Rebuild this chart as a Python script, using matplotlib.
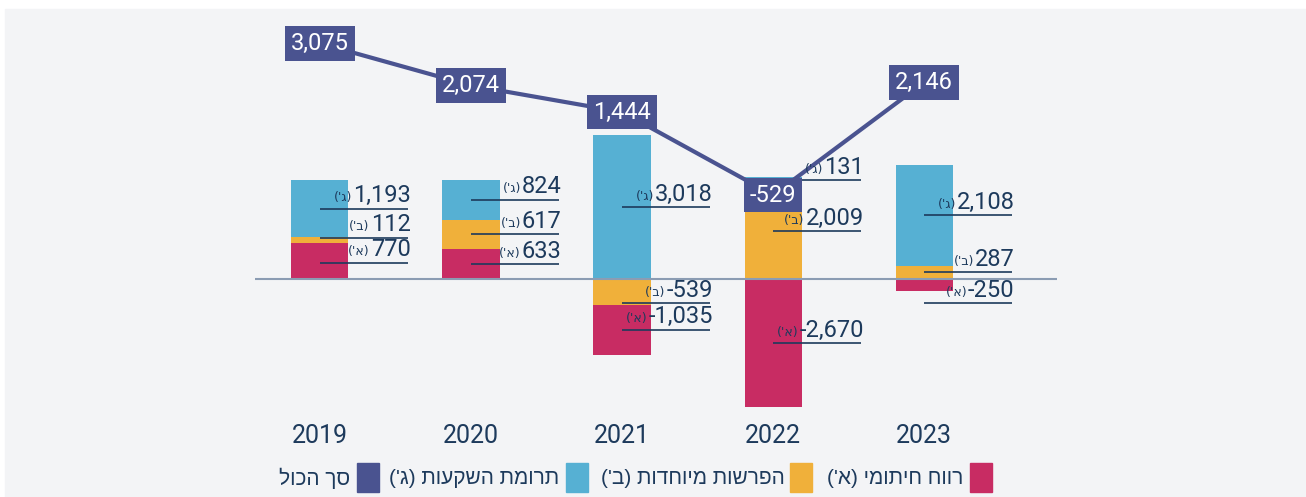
import matplotlib
matplotlib.use('Agg')
import matplotlib.pyplot as plt
import numpy as np
from matplotlib.patches import Rectangle
from matplotlib.transforms import IdentityTransform

# data
years = ['2019', '2020', '2021', '2022', '2023']
underwriting = [770, 633, -1035, -2670, -250]   # (א')
special = [112, 617, -539, 2009, 287]           # (ב')
investment = [1193, 824, 3018, 131, 2108]       # (ג')
total = [3075, 2074, 1444, -529, 2146]

legend_labels = ["רווח חיתומי (א')", "הפרשות מיוחדות (ב')", "תרומת השקעות (ג')", 'סך הכול']
tags = ["(א')", "(ב')", "(ג')"]

# colours
red = '#c82c63'
orange = '#f0b03a'
blue = '#56b0d3'
navy = '#4a5390'
txt = '#1d3a5c'
base_c = '#8b9cb3'
bg = '#f3f4f6'


def rtl(s):
    # matplotlib has no bidi support: flip the string and mirror the brackets
    return s[::-1].translate(str.maketrans('()', ')('))


W, H = 1306, 497
fig = plt.figure(figsize=(W / 100, H / 100), dpi=100)
fig.patch.set_facecolor('white')
fig.add_artist(Rectangle((5 / W, 0), 1, (H - 9) / H, transform=fig.transFigure,
                         color=bg, zorder=0))

numfont = ['Roboto', 'DejaVu Sans']
regular = ['Liberation Sans', 'DejaVu Sans']

ax = fig.add_axes([255 / W, (H - 420) / H, 802 / W, 390 / H])
ax.patch.set_visible(False)
ax.set_xlim(-0.43, 4.88)
ax.set_ylim(-2942, 5214)
for s in ax.spines.values():
    s.set_visible(False)

x = np.arange(len(years))
width = 0.378
series = [np.array(underwriting), np.array(special), np.array(investment)]
colors = [red, orange, blue]

# stacking: positives go up in order א,ב,ג ; negatives go down in order ג,ב,א
bottoms = np.zeros((3, len(x)))
pos = np.zeros(len(x))
neg = np.zeros(len(x))
for k in range(3):
    v = series[k]
    bottoms[k] = np.where(v >= 0, pos, 0)
    pos += np.where(v >= 0, v, 0)
for k in [2, 1, 0]:
    v = series[k]
    bottoms[k] = np.where(v < 0, neg, bottoms[k])
    neg += np.where(v < 0, v, 0)

for k in range(3):
    ax.bar(x, series[k], width, bottom=bottoms[k], color=colors[k], zorder=2)

ax.axhline(0, color=base_c, lw=1.5, zorder=3)

# label positions (segment centres), pushed apart a little when too close
ppu = 390 / (5214 + 2942)
gap = 25 / ppu
vals = np.array(series)
centres = bottoms + vals / 2
# labels of negative parts sit below the zero line
centres = np.where(vals < 0, np.minimum(centres, -24 / ppu), centres)
for i in range(len(x)):
    order = np.argsort(centres[:, i])
    for _ in range(5):
        for a, b in zip(order[:-1], order[1:]):
            d = centres[b, i] - centres[a, i]
            if d < gap:
                centres[a, i] -= (gap - d) / 2
                centres[b, i] += (gap - d) / 2

num_texts = []
for k in range(3):
    for i in range(len(x)):
        cy = centres[k, i]
        ax.plot([x[i], x[i] + 0.583], [cy, cy], color=txt, lw=1.2, zorder=4,
                solid_capstyle='butt')
        t = ax.annotate(f'{series[k][i]:,}', xy=(x[i] + 0.60, cy), xytext=(0, 1),
                        textcoords='offset points', ha='right', va='bottom',
                        fontsize=17, family=numfont, color=txt, zorder=5)
        num_texts.append((t, rtl(tags[k])))

ax.set_xticks(x)
ax.set_xticklabels(years, fontsize=18, family=numfont, color=txt)
ax.tick_params(length=0, pad=3)
ax.set_yticks([])

# total line on its own scale
ax2 = ax.twinx()
ax2.set_axis_off()
ax2.set_ylim(-5877, 3393)
ax2.plot(x, total, color=navy, lw=3, zorder=4)
for i in range(len(x)):
    ax2.text(x[i], total[i], f'{total[i]:,}', ha='center', va='center',
             color='white', fontsize=17, family=numfont, zorder=6,
             bbox=dict(boxstyle='square,pad=0.25', fc=navy, ec='none'))

# small tags left of every number
fig.canvas.draw()
r = fig.canvas.get_renderer()
for t, tag in num_texts:
    bb = t.get_window_extent(r)
    fig.text(bb.x0 - 1, bb.y0 + 3, tag, transform=IdentityTransform(),
             ha='right', va='bottom', fontsize=9, family='DejaVu Sans', color=txt)

# legend, right to left
text_right = [963, 785, 559, 350]
square_x = [970, 790, 566, 357]
leg_colors = [red, orange, blue, navy]
for label, tr, sx, c in zip(legend_labels, text_right, square_x, leg_colors):
    fig.add_artist(Rectangle((sx / W, (H - 492) / H), 22 / W, 29 / H,
                             transform=fig.transFigure, color=c))
    fig.text(tr / W, (H - 478) / H, rtl(label), ha='right', va='center',
             fontsize=15, family=regular, color=txt)

fig.savefig('out.png', dpi=100, facecolor=fig.get_facecolor())
